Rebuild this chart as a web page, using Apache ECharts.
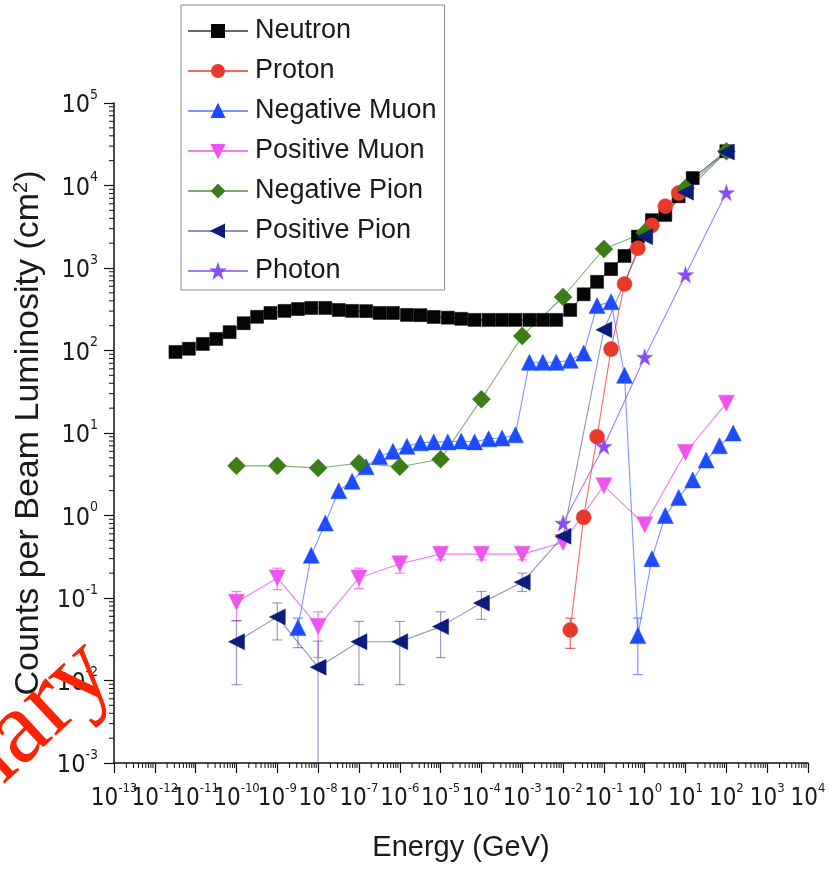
<!DOCTYPE html>
<html><head><meta charset="utf-8">
<script src="https://cdn.jsdelivr.net/npm/echarts@6/dist/echarts.min.js"></script>
<style>html,body{margin:0;padding:0;background:#fff}#c{width:835px;height:870px}</style>
</head><body><div id="c"></div>
<script>
// ---------- data ----------
const neutronEnergy = [3.2e-12,6.8e-12,1.5e-11,3.2e-11,6.8e-11,1.5e-10,3.2e-10,6.8e-10,1.5e-9,3.2e-9,6.8e-9,1.5e-8,3.2e-8,6.8e-8,1.5e-7,3.2e-7,6.8e-7,1.5e-6,3.2e-6,6.8e-6,1.5e-5,3.2e-5,6.8e-5,1.5e-4,3.2e-4,6.8e-4,1.5e-3,3.2e-3,6.8e-3,1.5e-2,3.2e-2,6.8e-2,0.15,0.32,0.68,1.5,3.2,6.8,15,100];
const neutronCounts = [96,105,120,138,167,214,256,285,302,318,328,328,310,302,300,285,285,270,268,255,250,242,235,235,235,235,235,235,235,310,480,680,970,1400,2400,3800,4400,7400,12300,26000];

const protonEnergy = [1.5e-2,3.2e-2,6.8e-2,0.15,0.32,0.68,1.5,3.2,6.8];
const protonCounts = [0.041,0.95,9,104,640,1740,3300,5600,8100];

const negMuonEnergy = [3.2e-9,6.8e-9,1.5e-8,3.2e-8,6.8e-8,1.5e-7,3.2e-7,6.8e-7,1.5e-6,3.2e-6,6.8e-6,1.5e-5,3.2e-5,6.8e-5,1.5e-4,3.2e-4,6.8e-4,1.5e-3,3.2e-3,6.8e-3,1.5e-2,3.2e-2,6.8e-2,0.15,0.32,0.68,1.5,3.2,6.8,15,32,68,147];
const negMuonCounts = [0.044,0.33,0.81,2.0,2.6,3.9,5.2,6.0,6.9,7.6,7.8,7.8,8.0,7.8,8.5,8.7,9.5,72,72,72,76,93,350,390,50,0.035,0.30,1.0,1.65,2.7,4.7,7.0,10];

const decadeEnergy = [1e-10,1e-9,1e-8,1e-7,1e-6,1e-5,1e-4,1e-3,1e-2,1e-1,1,10,100];
const posMuonCounts = [0.089,0.175,0.045,0.175,0.26,0.34,0.34,0.34,0.47,2.3,0.77,5.8,23];
const negPionCounts = [4.0,4.0,3.77,4.3,3.9,4.8,25.7,150,445,1700,2700,9300,26000];
const posPionCounts = [0.0295,0.059,0.0145,0.0295,0.0295,0.045,0.087,0.155,0.56,178,2400,8300,25500];

const photonEnergy = [1e-2,1e-1,1,10,100];
const photonCounts = [0.81,6.9,83,830,8200];

// error bars: [energy, low, high]
const protonErr = [[1.5e-2,0.0245,0.057]];
const negMuonErr = [[3.2e-9,0.025,0.057],[0.68,0.0118,0.057]];
const posMuonErr = [[1e-10,0.053,0.12],[1e-9,0.126,0.23],[1e-8,0.019,0.068],[1e-7,0.13,0.23],[1e-6,0.2,0.31],[1e-5,0.29,0.40],[1e-4,0.29,0.40],[1e-3,0.29,0.40]];
const posPionErr = [[1e-10,0.0089,0.053],[1e-9,0.031,0.087],[1e-8,0.0004,0.03],[1e-7,0.0089,0.052],[1e-6,0.0089,0.052],[1e-5,0.019,0.068],[1e-4,0.055,0.12],[1e-3,0.12,0.2]];

const xTickExp = [-13,-12,-11,-10,-9,-8,-7,-6,-5,-4,-3,-2,-1,0,1,2,3,4];
const yTickExp = [-3,-2,-1,0,1,2,3,4,5];

const seriesNames = ['Neutron','Proton','Negative Muon','Positive Muon','Negative Pion','Positive Pion','Photon'];

// ---------- chart ----------
const FONT = "'Liberation Sans', Arial, sans-serif";
const NARROW = "'Liberation Sans Narrow', 'Arial Narrow', 'DejaVu Sans Condensed', 'Liberation Sans', sans-serif";
const zip = (xs, ys) => xs.map((x, i) => [x, ys[i]]);
const starPath = 'path://M50,0 L61.8,35.3 L99,35.3 L69,57.2 L80.3,92.7 L50,70.8 L19.7,92.7 L31,57.2 L1,35.3 L38.2,35.3 Z';

function lineSeries(name, xs, ys, color, lineColor, symbol, size, rotate) {
  return {
    name, type: 'line', data: zip(xs, ys), symbol, symbolSize: size, symbolRotate: rotate || 0,
    showSymbol: true, smooth: false, z: 3,
    itemStyle: { color, borderColor: color, borderWidth: 0.5 },
    lineStyle: { color: lineColor, width: 1.1 },
    emphasis: { disabled: true }, animation: false
  };
}

function errSeries(data, color) {
  return {
    type: 'custom', data, clip: true, silent: true, z: 2, animation: false,
    encode: { x: 0, y: [1, 2] },
    renderItem: (params, api) => {
      const x = api.value(0);
      const pl = api.coord([x, api.value(1)]);
      const ph = api.coord([x, api.value(2)]);
      const st = { stroke: color, lineWidth: 1.2 };
      return { type: 'group', children: [
        { type: 'line', shape: { x1: pl[0], y1: pl[1], x2: ph[0], y2: ph[1] }, style: st },
        { type: 'line', shape: { x1: pl[0] - 5, y1: pl[1], x2: pl[0] + 5, y2: pl[1] }, style: st },
        { type: 'line', shape: { x1: ph[0] - 5, y1: ph[1], x2: ph[0] + 5, y2: ph[1] }, style: st }
      ] };
    }
  };
}

// minor tick positions (2..9 within each decade)
const xMinor = [], yMinor = [];
for (let e = xTickExp[0]; e < xTickExp[xTickExp.length - 1]; e++) for (let m = 2; m <= 9; m++) xMinor.push([m * Math.pow(10, e), 1e-3]);
for (let e = yTickExp[0]; e < yTickExp[yTickExp.length - 1]; e++) for (let m = 2; m <= 9; m++) yMinor.push([1e-13, m * Math.pow(10, e)]);

const minorX = {
  type: 'custom', data: xMinor, clip: false, silent: true, animation: false,
  renderItem: (p, api) => { const c = api.coord([api.value(0), api.value(1)]);
    return { type: 'line', shape: { x1: c[0], y1: c[1], x2: c[0], y2: c[1] + 5 }, style: { stroke: '#111', lineWidth: 1 } }; }
};
const minorY = {
  type: 'custom', data: yMinor, clip: false, silent: true, animation: false,
  renderItem: (p, api) => { const c = api.coord([api.value(0), api.value(1)]);
    return { type: 'line', shape: { x1: c[0] - 5, y1: c[1], x2: c[0], y2: c[1] }, style: { stroke: '#111', lineWidth: 1 } }; }
};

// x tick labels drawn at each decade through the axis scale (no overlap hiding)
const labelRich = {
  b: { fontSize: 24, fontFamily: NARROW, fill: '#1a1a1a', color: '#1a1a1a', padding: [5, 0, 0, 0] },
  s: { fontSize: 13, fontFamily: NARROW, fill: '#1a1a1a', color: '#1a1a1a', verticalAlign: 'top' }
};
const xLabelSeries = {
  type: 'custom', data: xTickExp.map(e => [Math.pow(10, e), 1e-3, e]), clip: false, silent: true, animation: false, z: 5,
  renderItem: (p, api) => {
    const c = api.coord([api.value(0), api.value(1)]);
    return { type: 'text', x: c[0], y: c[1] + 19,
      style: { text: '{b|10}{s|' + api.value(2) + '}', rich: labelRich, align: 'center', verticalAlign: 'top',
        fontFamily: NARROW, fill: '#1a1a1a' } };
  }
};

const supFmt = v => '{b|10}{s|' + Math.round(Math.log10(v)) + '}';
const yRich = {
  b: { fontSize: 25, fontFamily: NARROW, color: '#1a1a1a', padding: [5, 0, 0, 0] },
  s: { fontSize: 14, fontFamily: NARROW, color: '#1a1a1a', verticalAlign: 'top' }
};

const chart = echarts.init(document.getElementById('c'), null, { renderer: 'canvas' });
chart.setOption({
  animation: false,
  backgroundColor: '#fff',
  grid: { left: 114, right: 27, top: 103, bottom: 107, containLabel: false },
  legend: {
    data: seriesNames, orient: 'vertical', left: 181, top: 5,
    itemWidth: 60, itemHeight: 15, itemGap: 10,
    padding: [11, 8, 4, 6], borderColor: '#8a8a8a', borderWidth: 1, backgroundColor: '#fff',
    textStyle: { fontFamily: FONT, fontSize: 27, lineHeight: 30, color: '#1a1a1a', padding: [0, 0, 0, 2] },
    selectedMode: false
  },
  xAxis: {
    type: 'log', logBase: 10, min: 1e-13, max: 1e4, interval: 1,
    name: 'Energy (GeV)', nameLocation: 'middle', nameGap: 70,
    nameTextStyle: { fontFamily: FONT, fontSize: 29, color: '#1a1a1a' },
    axisLine: { show: true, onZero: false, lineStyle: { color: '#111', width: 1.5 } },
    axisTick: { show: true, inside: false, length: 10, lineStyle: { color: '#111', width: 1.2 } },
    minorTick: { show: false },
    splitLine: { show: false },
    axisLabel: { show: false }
  },
  yAxis: {
    type: 'log', logBase: 10, min: 1e-3, max: 1e5, interval: 1,
    name: 'Counts per Beam Luminosity (cm{s|2})', nameLocation: 'middle', nameGap: 58,
    nameTextStyle: { fontFamily: FONT, fontSize: 34, color: '#1a1a1a',
      rich: { s: { fontFamily: FONT, fontSize: 20, color: '#1a1a1a', verticalAlign: 'top' } } },
    axisLine: { show: true, onZero: false, lineStyle: { color: '#111', width: 1.5 } },
    axisTick: { show: true, inside: false, length: 10, lineStyle: { color: '#111', width: 1.2 } },
    minorTick: { show: false },
    splitLine: { show: false },
    axisLabel: { formatter: supFmt, margin: 16, showMinLabel: true, showMaxLabel: true, hideOverlap: false,
      rich: yRich }
  },
  series: [
    minorX, minorY, xLabelSeries,
    errSeries(protonErr, 'rgba(232,60,45,0.8)'),
    errSeries(negMuonErr, 'rgba(40,80,255,0.6)'),
    errSeries(posMuonErr, 'rgba(235,90,235,0.75)'),
    errSeries(posPionErr, 'rgba(30,40,130,0.45)'),
    lineSeries('Neutron', neutronEnergy, neutronCounts, '#050505', 'rgba(40,40,40,0.7)', 'rect', 13),
    lineSeries('Proton', protonEnergy, protonCounts, '#e8392a', 'rgba(235,70,60,0.8)', 'circle', 15),
    lineSeries('Negative Muon', negMuonEnergy, negMuonCounts, '#1d4cff', 'rgba(60,90,255,0.65)', 'triangle', 16),
    lineSeries('Positive Muon', decadeEnergy, posMuonCounts, '#ee55ee', 'rgba(238,100,238,0.85)', 'triangle', 16, 180),
    lineSeries('Negative Pion', decadeEnergy, negPionCounts, '#3b7d16', 'rgba(70,140,50,0.7)', 'diamond', 18),
    lineSeries('Positive Pion', decadeEnergy, posPionCounts, '#0c1c7a', 'rgba(50,60,130,0.55)', 'triangle', 16, 90),
    lineSeries('Photon', photonEnergy, photonCounts, '#8a4cf5', 'rgba(150,100,245,0.85)', starPath, 16)
  ],
  graphic: [{
    type: 'text', x: 99, y: 658, rotation: 43 * Math.PI / 180, z: 100, silent: true,
    style: { text: 'Preliminary', fill: '#ff2200', fontFamily: "'Liberation Serif', 'Times New Roman', serif",
      fontSize: 104, align: 'right', verticalAlign: 'middle' }
  }]
});
</script></body></html>
